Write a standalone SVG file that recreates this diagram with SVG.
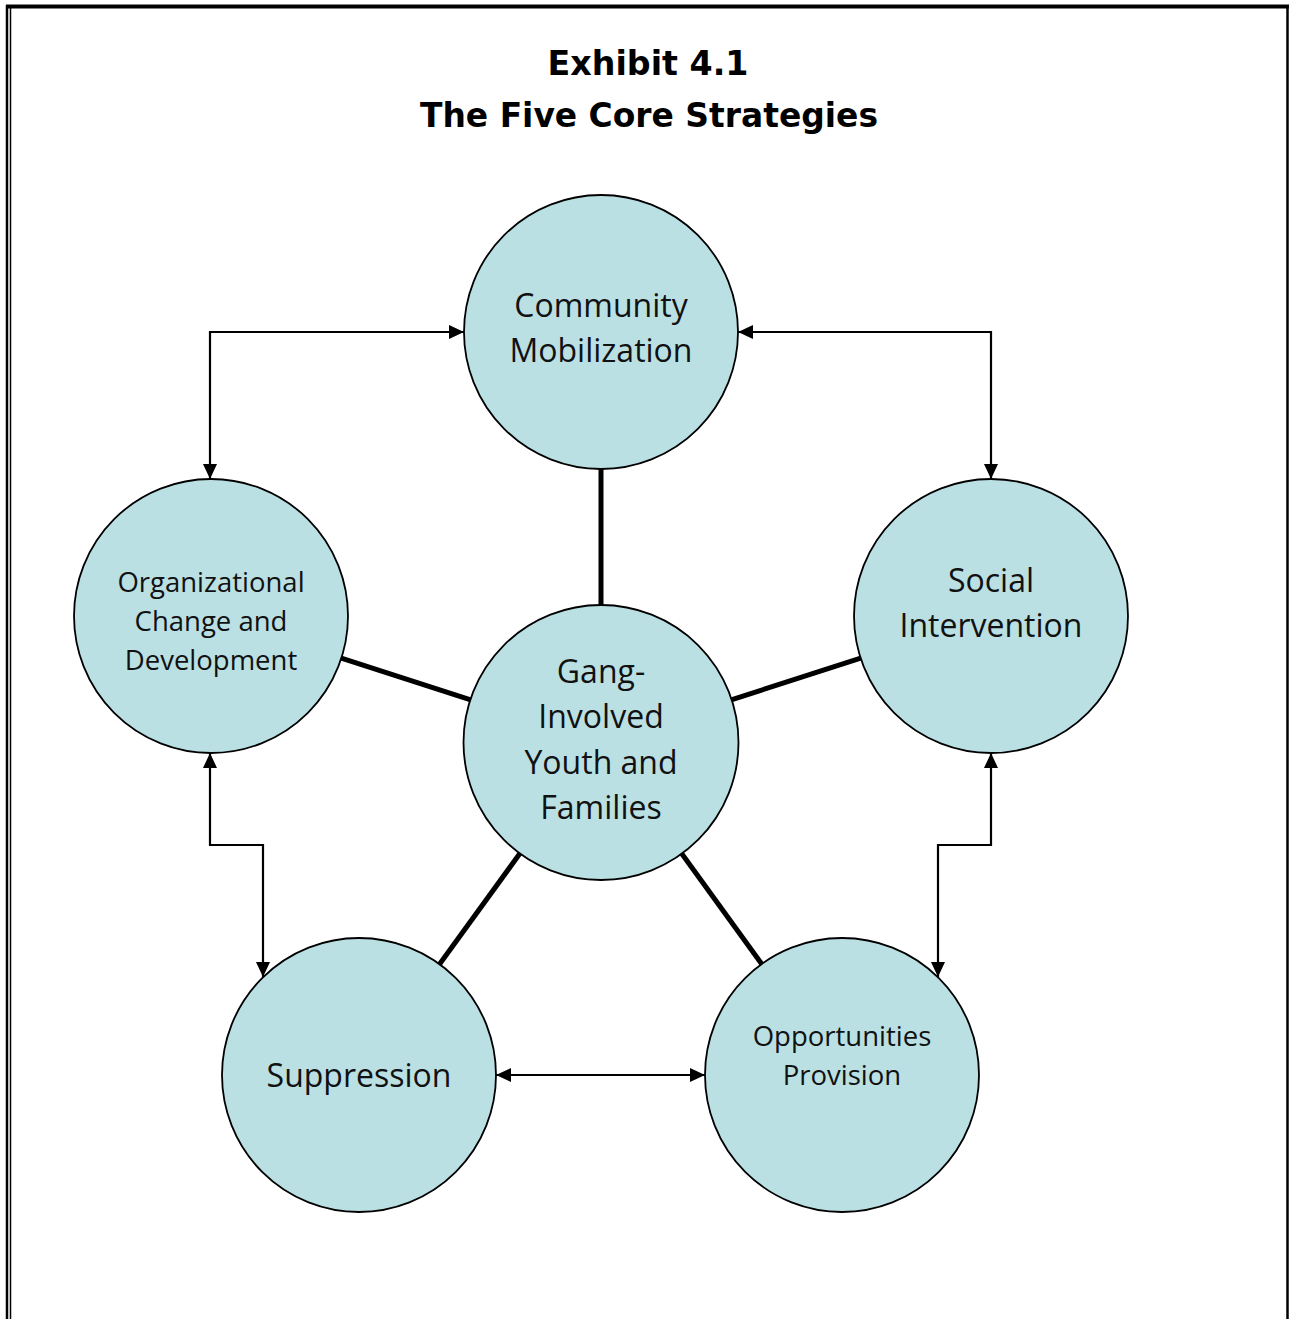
<svg xmlns="http://www.w3.org/2000/svg" width="1289" height="1319" viewBox="0 0 1289 1319">
<style>
.node circle{fill:#BAE0E4;stroke:#000;stroke-width:1.8}
.lbl{font-family:"Open Sans","Liberation Sans",sans-serif;fill:#111;text-anchor:middle}
.big{font-size:32px}
.small{font-size:27.5px}
.title{font-family:"DejaVu Sans","Liberation Sans",sans-serif;font-weight:bold;font-size:34px;fill:#000;text-anchor:middle}
.arrow{fill:none;stroke:#000;stroke-width:2.2}
.spoke{stroke:#000;stroke-width:5;fill:none}
.frame{stroke:#000;fill:none}
</style>
<defs>
<marker id="ah" markerUnits="userSpaceOnUse" markerWidth="16" markerHeight="14" viewBox="0 0 16 14" refX="15" refY="7" orient="auto-start-reverse">
<path d="M0,0 L15,7 L0,14 z" fill="#000"/>
</marker>
</defs>
<rect width="1289" height="1319" fill="#fff"/>
<g id="frame">
<line class="frame" x1="6" y1="6.5" x2="1289" y2="6.5" stroke-width="4"/>
<line class="frame" x1="7" y1="5" x2="7" y2="1319" stroke-width="2.5"/>
<line class="frame" x1="10.5" y1="8" x2="10.5" y2="1319" stroke-width="1.5"/>
<line class="frame" x1="1287.5" y1="5" x2="1287.5" y2="1319" stroke-width="2.5"/>
</g>
<g id="title">
<text class="title" x="648" y="75" textLength="201" lengthAdjust="spacingAndGlyphs">Exhibit 4.1</text>
<text class="title" x="649" y="127" textLength="458" lengthAdjust="spacingAndGlyphs">The Five Core Strategies</text>
</g>
<g id="connectors">
<line class="spoke" x1="601" y1="469" x2="601" y2="605"/>
<line class="spoke" x1="470.7" y1="699.9" x2="341.3" y2="658.1"/>
<line class="spoke" x1="731.3" y1="699.9" x2="860.7" y2="658.1"/>
<line class="spoke" x1="520.4" y1="852.8" x2="439.5" y2="964.2"/>
<line class="spoke" x1="681.3" y1="853" x2="761.7" y2="964"/>
<path class="arrow" d="M210,479 V332 H464" marker-start="url(#ah)" marker-end="url(#ah)"/>
<path class="arrow" d="M738,332 H991 V479" marker-start="url(#ah)" marker-end="url(#ah)"/>
<path class="arrow" d="M210,753 V845 H263 V977" marker-start="url(#ah)" marker-end="url(#ah)"/>
<path class="arrow" d="M991,753 V845 H938 V977" marker-start="url(#ah)" marker-end="url(#ah)"/>
<path class="arrow" d="M496,1075 H705" marker-start="url(#ah)" marker-end="url(#ah)"/>
</g>
<g id="community" class="node">
<circle cx="601" cy="332" r="137"/>
<text class="lbl big" x="601" y="317">Community</text>
<text class="lbl big" x="601" y="362">Mobilization</text>
</g>
<g id="organizational" class="node">
<circle cx="211" cy="616" r="137"/>
<text class="lbl small" x="211" y="592">Organizational</text>
<text class="lbl small" x="211" y="631">Change and</text>
<text class="lbl small" x="211" y="670">Development</text>
</g>
<g id="social" class="node">
<circle cx="991" cy="616" r="137"/>
<text class="lbl big" x="991" y="592">Social</text>
<text class="lbl big" x="991" y="637">Intervention</text>
</g>
<g id="center" class="node">
<circle cx="601" cy="742.5" r="137.5"/>
<text class="lbl big" x="601" y="683">Gang-</text>
<text class="lbl big" x="601" y="728">Involved</text>
<text class="lbl big" x="601" y="774">Youth and</text>
<text class="lbl big" x="601" y="819">Families</text>
</g>
<g id="suppression" class="node">
<circle cx="359" cy="1075" r="137"/>
<text class="lbl big" x="359" y="1087">Suppression</text>
</g>
<g id="opportunities" class="node">
<circle cx="842" cy="1075" r="137"/>
<text class="lbl small" x="842" y="1046">Opportunities</text>
<text class="lbl small" x="842" y="1085">Provision</text>
</g>
</svg>
